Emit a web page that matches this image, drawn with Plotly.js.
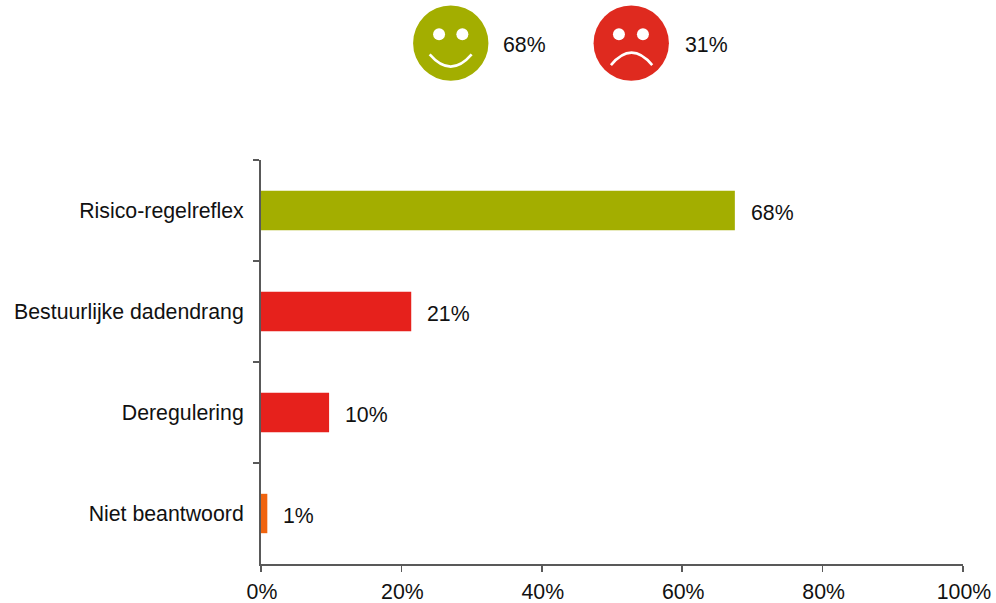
<!DOCTYPE html>
<html><head><meta charset="utf-8">
<script src="https://cdn.plot.ly/plotly-3.0.1.min.js"></script>
<style>html,body{margin:0;padding:0;background:#fff}</style></head><body>
<div id="chart" style="width:996px;height:603px"></div>
<script>
const categories = ["Risico-regelreflex","Bestuurlijke dadendrang","Deregulering","Niet beantwoord"];
const values = [67.5,21.4,9.7,0.9];
const valueLabels = ["68%","21%","10%","1%"];
const barColors = ["#a3ae00","#e6211c","#e6211c","#f0640f"];
const faceLabels = ["68%","31%"];

const W=996,H=603,L=260.5,R=963,T=160,B=564.5;
const px=x=>(x-L)/(R-L), py=y=>(B-y)/(B-T);
const FONT={family:"Liberation Sans, Arial, sans-serif",size:21.3,color:"#111"};
function circle(cx,cy,r,color){return {type:"circle",xref:"paper",yref:"paper",x0:px(cx-r),x1:px(cx+r),y0:py(cy+r),y1:py(cy-r),fillcolor:color,line:{width:0},layer:"above"};}
function mouth(x0,y0,xm,ym,x1,y1){
  const cy=2*ym-(y0+y1)/2;
  return {type:"path",xref:"paper",yref:"paper",path:`M ${px(x0)},${py(y0)} Q ${px(xm)},${py(cy)} ${px(x1)},${py(y1)}`,line:{color:"#fff",width:2.6},fillcolor:"rgba(0,0,0,0)",layer:"above"};
}
const shapes=[
  circle(450.4,43,37.7,"#a3ae00"),circle(438.7,34,6,"#fff"),circle(462,34,6,"#fff"),mouth(429.3,54.3,450.3,66.5,471.3,54.3),
  circle(631,43,37.7,"#df2a1f"),circle(618.7,34,6,"#fff"),circle(642.7,34,6,"#fff"),mouth(610.7,65,631.3,52.5,652,65)
];
const annotations=categories.map((c,i)=>({x:values[i],y:c,xref:"x",yref:"y",text:valueLabels[i],showarrow:false,xanchor:"left",yanchor:"middle",xshift:14,yshift:-2,font:FONT}));
annotations.push({xref:"paper",yref:"paper",x:px(503),y:py(45),text:faceLabels[0],showarrow:false,xanchor:"left",yanchor:"middle",xshift:-2,font:FONT});
annotations.push({xref:"paper",yref:"paper",x:px(685),y:py(45),text:faceLabels[1],showarrow:false,xanchor:"left",yanchor:"middle",xshift:-2,font:FONT});

Plotly.newPlot("chart",[{type:"bar",orientation:"h",y:categories,x:values,marker:{color:barColors},hoverinfo:"none"}],{
  width:W,height:H,margin:{l:L,r:W-R,t:T,b:H-B,pad:0},showlegend:false,bargap:0.61,
  paper_bgcolor:"#fff",plot_bgcolor:"#fff",font:FONT,shapes,annotations,
  xaxis:{range:[0,100],dtick:20,ticksuffix:"%",ticks:"outside",ticklen:6,tickwidth:1.5,tickcolor:"#595959",showgrid:false,zeroline:false,showline:true,linecolor:"#595959",linewidth:2,tickfont:FONT,ticklabelshift:1,ticklabelstandoff:1},
  yaxis:{type:"category",autorange:"reversed",tickson:"boundaries",ticks:"outside",ticklen:6,tickwidth:1.5,tickcolor:"#595959",showgrid:false,zeroline:false,showline:true,linecolor:"#595959",linewidth:2,tickfont:FONT,ticklabelstandoff:11,ticklabelshift:1.5}
},{displayModeBar:false,staticPlot:true});
</script></body></html>
